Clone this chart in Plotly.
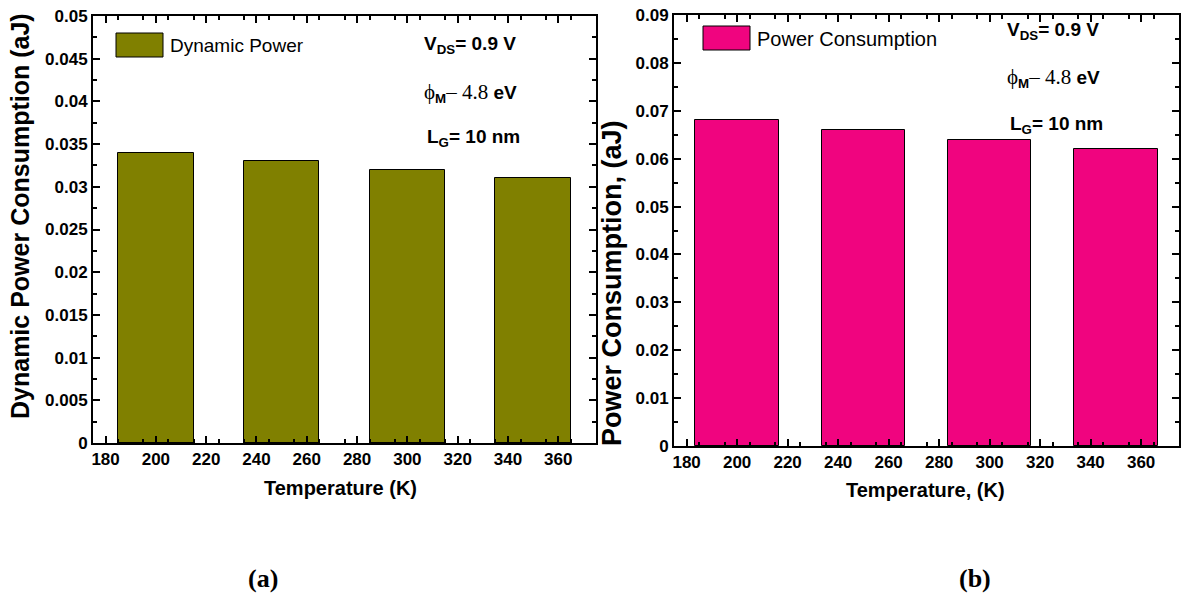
import plotly.graph_objects as go

# Temperature sweep and simulated energy values
temperature = [200, 250, 300, 350]
dynamic_power = [0.034, 0.033, 0.032, 0.031]
power_consumption = [0.068, 0.066, 0.064, 0.062]

x_ticks = [180, 200, 220, 240, 260, 280, 300, 320, 340, 360]
olive = "#808000"
pink = "#F0047F"

W, H = 1182, 599


def px(x):
    return x / W


def py(y):
    return 1 - y / H


SANS = "Liberation Sans"
SERIF = "Liberation Serif"
tick_font = dict(family=SANS, size=17, color="black", weight="bold")

fig = go.Figure()
fig.add_trace(go.Bar(x=temperature, y=dynamic_power, width=30,
                     marker=dict(color=olive, line=dict(color="black", width=1)),
                     xaxis="x", yaxis="y", showlegend=False))
fig.add_trace(go.Bar(x=temperature, y=power_consumption, width=33,
                     marker=dict(color=pink, line=dict(color="black", width=1)),
                     xaxis="x2", yaxis="y2", showlegend=False))

common_x = dict(range=[175, 375], tickvals=x_ticks, ticks="inside", ticklen=7,
                tickwidth=2, tickcolor="black", showline=True, linewidth=2,
                linecolor="black", mirror="allticks", showgrid=False,
                zeroline=False, tickfont=tick_font, automargin=False,
                minor=dict(dtick=10, tick0=175, ticks="inside", ticklen=4,
                           tickwidth=2, tickcolor="black"))
common_y = dict(ticks="inside", ticklen=7, tickwidth=2, tickcolor="black",
                showline=True, linewidth=2, linecolor="black",
                mirror="allticks", showgrid=False, zeroline=False,
                tickfont=tick_font, automargin=False)

fig.update_layout(
    width=W, height=H, margin=dict(l=0, r=0, t=0, b=0, autoexpand=False),
    paper_bgcolor="white", plot_bgcolor="white", bargap=0,
    xaxis=dict(domain=[px(93), px(596)], anchor="y", **common_x),
    yaxis=dict(domain=[py(443), py(16)], anchor="x", range=[0, 0.05],
               dtick=0.005, minor=dict(dtick=0.0025, ticks="inside",
                                       ticklen=4, tickwidth=2,
                                       tickcolor="black"), **common_y),
    xaxis2=dict(domain=[px(674), px(1179)], anchor="y2", **common_x),
    yaxis2=dict(domain=[py(446), py(15)], anchor="x2", range=[0, 0.09],
                dtick=0.01, minor=dict(dtick=0.005, ticks="inside",
                                       ticklen=4, tickwidth=2,
                                       tickcolor="black"), **common_y),
)

ann = []


def text(x, y, s, size, bold=True, family=SANS, angle=0, xanchor="center"):
    ann.append(dict(x=px(x), y=py(y), xref="paper", yref="paper", text=s,
                    showarrow=False, textangle=angle, xanchor=xanchor,
                    yanchor="middle",
                    font=dict(family=family, size=size, color="black",
                              weight="bold" if bold else "normal")))


# axis titles
text(340, 488, "Temperature (K)", 20)
text(925, 490, "Temperature, (K)", 20)
text(20, 216, "Dynamic Power Consumption (aJ)", 25, angle=-90)
text(612, 283, "Power Consumption, (aJ)", 27, angle=-90)

# legends (swatch + label)
fig.add_shape(type="rect", xref="paper", yref="paper", x0=px(116), x1=px(163),
              y0=py(57), y1=py(33), fillcolor=olive,
              line=dict(color="black", width=1))
text(168, 45, "Dynamic Power", 19, bold=False, xanchor="left")
fig.add_shape(type="rect", xref="paper", yref="paper", x0=px(703), x1=px(750),
              y0=py(50), y1=py(26), fillcolor=pink,
              line=dict(color="black", width=1))
text(755, 39, "Power Consumption", 20, bold=False, xanchor="left")

phi = ("<span style='font-family:Liberation Serif;font-weight:normal;"
       "font-size:21px'>\u03d5</span><sub>M</sub>"
       "<span style='font-family:Liberation Serif;font-weight:normal;"
       "font-size:21px'>\u2013 4.8</span> eV")
for cx, ys in [(470, (45, 93, 138)), (1053, (31, 78, 125))]:
    text(cx, ys[0], "V<sub>DS</sub>= 0.9 V", 19)
    text(cx, ys[1], phi, 19)
    text(cx + 3, ys[2], "L<sub>G</sub>= 10 nm", 19)

# panel labels
text(263, 578, "(a)", 26, family=SERIF)
text(975, 578, "(b)", 26, family=SERIF)

fig.update_layout(annotations=ann)
fig.write_html("out.html")
